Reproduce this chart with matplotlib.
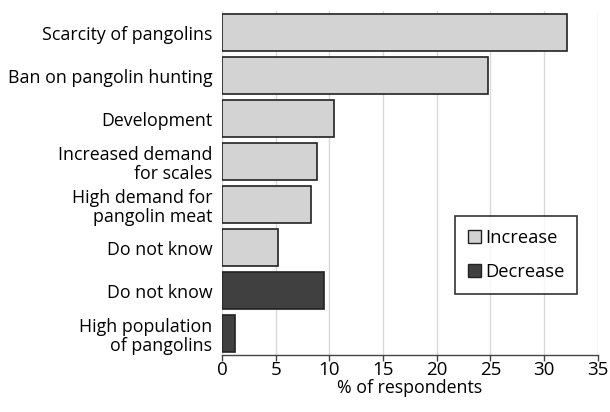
import matplotlib.pyplot as plt
from matplotlib.patches import Patch

plt.rcParams['font.family'] = ['Open Sans', 'DejaVu Sans']

# bars listed top to bottom
labels = ['Scarcity of pangolins', 'Ban on pangolin hunting', 'Development',
          'Increased demand\nfor scales', 'High demand for\npangolin meat',
          'Do not know', 'Do not know', 'High population\nof pangolins']
values = [32.1, 24.8, 10.4, 8.8, 8.3, 5.2, 9.5, 1.2]
trend = ['Increase'] * 6 + ['Decrease'] * 2

colors = {'Increase': '#d3d3d3', 'Decrease': '#404040'}

fig = plt.figure(figsize=(6.1, 4.12), dpi=100)
ax = fig.add_axes([0.364, 0.138, 0.616, 0.835])

pos = list(range(len(labels)))
ax.barh(pos, values, height=0.85, color=[colors[t] for t in trend],
        edgecolor='#222222', linewidth=1.2, zorder=3)

ax.set_ylim(len(labels) - 0.5, -0.5)
ax.set_yticks(pos)
ax.set_yticklabels(labels, fontsize=12.8, linespacing=1.12, multialignment='right')
ax.tick_params(axis='y', length=0, pad=7)

ax.set_xlim(0, 35)
ax.set_xticks(range(0, 36, 5))
ax.tick_params(axis='x', labelsize=13.5, length=4, width=1, color='#444444', pad=0)
ax.set_xlabel('% of respondents', fontsize=12.8, labelpad=0)

ax.grid(axis='x', color='#d9d9d9', linewidth=1, zorder=0)
for s in ['top', 'right', 'left']:
    ax.spines[s].set_visible(False)
ax.spines['bottom'].set_color('#444444')
ax.spines['bottom'].set_linewidth(1)

handles = [Patch(facecolor=colors[k], edgecolor='#222222', label=k) for k in ['Increase', 'Decrease']]
leg = ax.legend(handles=handles, loc='lower right', bbox_to_anchor=(0.97, 0.152),
                fontsize=13.2, frameon=True, fancybox=False, handlelength=0.7,
                handleheight=0.7, handletextpad=0.25, borderpad=0.7, labelspacing=0.85)
leg.get_frame().set_edgecolor('black')
leg.get_frame().set_linewidth(1.2)

fig.savefig('out.png', dpi=100)
